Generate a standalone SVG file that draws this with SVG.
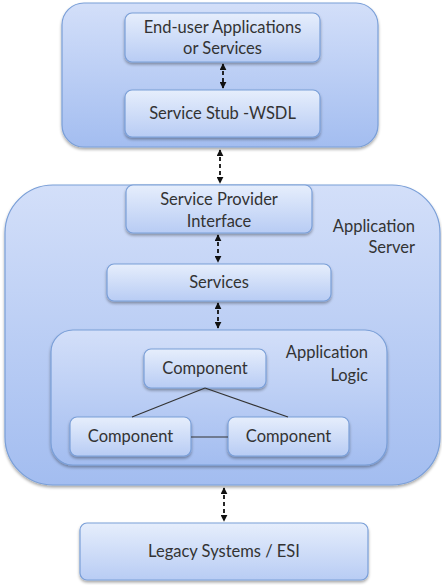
<svg xmlns="http://www.w3.org/2000/svg" width="442" height="585" viewBox="0 0 442 585">
<defs>
<linearGradient id="gc" x1="0" y1="0" x2="0" y2="1">
<stop offset="0" stop-color="#d3dff9"/>
<stop offset="1" stop-color="#a3bdf0"/>
</linearGradient>
<linearGradient id="gb" x1="0" y1="0" x2="0" y2="1">
<stop offset="0" stop-color="#e6eefc"/>
<stop offset="1" stop-color="#b8ccf4"/>
</linearGradient>
<filter id="sh" x="-10%" y="-10%" width="120%" height="130%">
<feGaussianBlur in="SourceAlpha" stdDeviation="1.6"/>
<feOffset dx="0" dy="2" result="b"/>
<feComponentTransfer><feFuncA type="linear" slope="0.35"/></feComponentTransfer>
<feMerge><feMergeNode/><feMergeNode in="SourceGraphic"/></feMerge>
</filter>
<marker id="ah" viewBox="0 0 10 10" refX="9" refY="5" markerWidth="7" markerHeight="7" orient="auto-start-reverse" markerUnits="userSpaceOnUse">
<path d="M0,0 L10,5 L0,10 z" fill="#111"/>
</marker>
</defs>
<style>
.cont{fill:url(#gc);stroke:#7a9fd8;stroke-width:1.2;filter:url(#sh)}
.box{fill:url(#gb);stroke:#7a9fd8;stroke-width:1.2;filter:url(#sh)}
.t{font-family:Lato,"Liberation Sans",sans-serif;font-size:16.5px;fill:#333;text-anchor:middle}
.lbl{font-family:Lato,"Liberation Sans",sans-serif;font-size:16.5px;fill:#333;text-anchor:end}
.arr{stroke:#111;stroke-width:1.8;stroke-dasharray:4,3;fill:none;marker-start:url(#ah);marker-end:url(#ah)}
.ln{stroke:#333;stroke-width:1.2;fill:none}
</style>
<g id="client-container"><rect class="cont" x="62" y="3" width="316" height="144" rx="22"/></g>
<g id="app-server"><rect class="cont" x="5" y="185" width="435" height="300" rx="48"/>
<text class="lbl" x="415" y="232">Application</text><text class="lbl" x="415" y="253">Server</text></g>
<g id="end-user"><rect class="box" x="125" y="13" width="195" height="49" rx="7"/>
<text class="t" x="222.5" y="33">End-user Applications</text><text class="t" x="222.5" y="54">or Services</text></g>
<g id="stub"><rect class="box" x="125" y="90" width="195" height="47" rx="7"/>
<text class="t" x="222.5" y="119">Service Stub -WSDL</text></g>
<g id="spi"><rect class="box" x="126" y="185" width="186" height="48" rx="7"/>
<text class="t" x="219" y="205">Service Provider</text><text class="t" x="219" y="227">Interface</text></g>
<g id="services"><rect class="box" x="107" y="264" width="224" height="37" rx="7"/>
<text class="t" x="219" y="288">Services</text></g>
<g id="app-logic"><rect class="cont" x="51" y="330" width="336" height="135" rx="22"/>
<text class="lbl" x="368" y="358">Application</text><text class="lbl" x="368" y="381">Logic</text></g>
<g id="comp-top"><rect class="box" x="144" y="349" width="122" height="39" rx="7"/>
<text class="t" x="205" y="374">Component</text></g>
<g id="comp-left"><rect class="box" x="70" y="417" width="121" height="39" rx="7"/>
<text class="t" x="130.5" y="442">Component</text></g>
<g id="comp-right"><rect class="box" x="228" y="417" width="121" height="39" rx="7"/>
<text class="t" x="288.5" y="442">Component</text></g>
<g id="legacy"><rect class="box" x="80" y="523" width="288" height="57" rx="7"/>
<text class="t" x="224" y="557">Legacy Systems / ESI</text></g>
<g id="connectors">
<line class="arr" x1="223" y1="64" x2="223" y2="88"/>
<line class="arr" x1="220" y1="150" x2="220" y2="183"/>
<line class="arr" x1="218" y1="235" x2="218" y2="262"/>
<line class="arr" x1="218" y1="303" x2="218" y2="328"/>
<line class="arr" x1="224" y1="488" x2="224" y2="521"/>
<line class="ln" x1="205" y1="388" x2="132" y2="417"/>
<line class="ln" x1="205" y1="388" x2="288" y2="417"/>
<line class="ln" x1="191" y1="437" x2="228" y2="437"/>
</g>
</svg>
